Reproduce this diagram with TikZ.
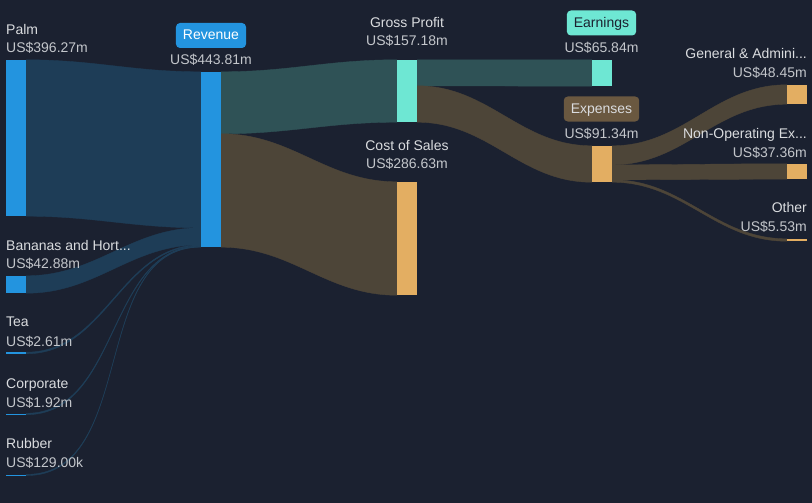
\documentclass[tikz,border=0pt]{standalone}
\usepackage{fontspec}
\setmainfont{Liberation Sans}
\usetikzlibrary{positioning,calc}

\definecolor{bgcol}{HTML}{1B2130}
\definecolor{bluebar}{HTML}{2394DF}
\definecolor{blueflow}{HTML}{1E3D57}
\definecolor{tealbar}{HTML}{6EE7D3}
\definecolor{tealflow}{HTML}{2F5256}
\definecolor{orangebar}{HTML}{E3AE62}
\definecolor{brownflow}{HTML}{4D4538}
\definecolor{browntag}{HTML}{6A5840}
\definecolor{txtcol}{HTML}{DADCDF}
\definecolor{valcol}{HTML}{C3C6CB}

\pgfdeclarelayer{flows}
\pgfsetlayers{flows,main}

\tikzset{
  bar/.style={rectangle, inner sep=0pt, minimum width=20pt, draw=none},
  lbl/.style={inner sep=0pt, text=txtcol, font=\fontsize{14}{16}\selectfont},
  val/.style={lbl, text=valcol},
  tag/.style={rounded corners=4pt, inner xsep=7pt, inner ysep=0pt, minimum height=25pt,
    text height=11pt, text depth=2pt, font=\fontsize{14}{16}\selectfont}
}

% band between two bars
\newcommand\band[5]{\fill[#5, draw=#5, line width=0.4pt] (#1) to[out=0,in=180] (#3) -- (#4) to[out=180,in=0] (#2) -- cycle;}

\begin{document}
\begin{tikzpicture}[x=1pt,y=-1pt]
  \begin{pgfonlayer}{flows}
    \fill[bgcol] (0,0) rectangle (812,503);
  \end{pgfonlayer}
  \useasboundingbox (0,0) rectangle (812,503);

  % bars
  \node[bar, fill=bluebar, minimum height=156pt] (palm) at (16,138) {};
  \node[bar, fill=bluebar, minimum height=17pt] (ban) at (16,284.5) {};
  \node[bar, fill=bluebar, minimum height=1.2pt] (tea) at (16,353) {};
  \node[bar, fill=bluebar, minimum height=1pt] (corp) at (16,414) {};
  \node[bar, fill=bluebar, minimum height=0.8pt] (rub) at (16,475) {};
  \node[bar, fill=bluebar, minimum height=175pt] (rev) at (211,159.5) {};
  \node[bar, fill=tealbar, minimum height=62pt] (gp) at (407,91) {};
  \node[bar, fill=orangebar, minimum height=113pt] (cos) at (407,238.5) {};
  \node[bar, fill=tealbar, minimum height=26pt] (earn) at (602,73) {};
  \node[bar, fill=orangebar, minimum height=36pt] (exp) at (602,164) {};
  \node[bar, fill=orangebar, minimum height=19pt] (ga) at (797,94.5) {};
  \node[bar, fill=orangebar, minimum height=15pt] (nop) at (797,171.5) {};
  \node[bar, fill=orangebar, minimum height=2pt] (oth) at (797,240) {};

  % flows
  \begin{pgfonlayer}{flows}
    \band{palm.north east}{palm.south east}{rev.north west}{$(rev.north west)+(0,156)$}{blueflow}
    \band{ban.north east}{ban.south east}{$(rev.north west)+(0,156)$}{$(rev.north west)+(0,173)$}{blueflow}
    \band{tea.north east}{tea.south east}{$(rev.north west)+(0,173)$}{$(rev.north west)+(0,174)$}{blueflow}
    \band{corp.north east}{corp.south east}{$(rev.north west)+(0,174)$}{$(rev.north west)+(0,174.8)$}{blueflow}
    \band{rub.north east}{rub.south east}{$(rev.north west)+(0,174.8)$}{rev.south west}{blueflow}
    \band{rev.north east}{$(rev.north east)+(0,62)$}{gp.north west}{gp.south west}{tealflow}
    \band{$(rev.north east)+(0,62)$}{rev.south east}{cos.north west}{cos.south west}{brownflow}
    \band{gp.north east}{$(gp.north east)+(0,26)$}{earn.north west}{earn.south west}{tealflow}
    \band{$(gp.north east)+(0,26)$}{gp.south east}{exp.north west}{exp.south west}{brownflow}
    \band{exp.north east}{$(exp.north east)+(0,19)$}{ga.north west}{ga.south west}{brownflow}
    \band{$(exp.north east)+(0,19)$}{$(exp.north east)+(0,34)$}{nop.north west}{nop.south west}{brownflow}
    \band{$(exp.north east)+(0,34)$}{exp.south east}{oth.north west}{oth.south west}{brownflow}
  \end{pgfonlayer}

  % left labels
  \node[lbl, anchor=base west] (palmlbl) at (6,34.5) {Palm};
  \node[val, anchor=base west] (palmval) at (6,53) {US\$396.27m};
  \node[lbl, anchor=base west] (banlbl) at (6,250) {Bananas and Hort...};
  \node[val, anchor=base west] (banval) at (6,268.7) {US\$42.88m};
  \node[lbl, anchor=base west] (tealbl) at (6,326.7) {Tea};
  \node[val, anchor=base west] (teaval) at (6,346) {US\$2.61m};
  \node[lbl, anchor=base west] (corplbl) at (6,388) {Corporate};
  \node[val, anchor=base west] (corpval) at (6,407) {US\$1.92m};
  \node[lbl, anchor=base west] (rublbl) at (6,448.7) {Rubber};
  \node[val, anchor=base west] (rubval) at (6,467.7) {US\$129.00k};

  % middle labels
  \node[tag, fill=bluebar, text=white] (revtag) at (211,35.5) {Revenue};
  \node[val, anchor=base] (revval) at (211,65) {US\$443.81m};
  \node[lbl, anchor=base] (gplbl) at (407,28) {Gross Profit};
  \node[val, anchor=base] (gpval) at (407,46) {US\$157.18m};
  \node[lbl, anchor=base] (coslbl) at (407,150) {Cost of Sales};
  \node[val, anchor=base] (cosval) at (407,168.5) {US\$286.63m};
  \node[tag, fill=tealbar, text=bgcol] (earntag) at (601.5,23) {Earnings};
  \node[val, anchor=base] (earnval) at (601.5,52.5) {US\$65.84m};
  \node[tag, fill=browntag, text=txtcol] (exptag) at (601.5,109) {Expenses};
  \node[val, anchor=base] (expval) at (601.5,138.5) {US\$91.34m};

  % right labels
  \node[lbl, anchor=base east] (galbl) at (807,59) {General \& Admini...};
  \node[val, anchor=base east] (gaval) at (807,77.5) {US\$48.45m};
  \node[lbl, anchor=base east] (noplbl) at (807,139) {Non-Operating Ex...};
  \node[val, anchor=base east] (nopval) at (807,157.5) {US\$37.36m};
  \node[lbl, anchor=base east] (othlbl) at (807,212.5) {Other};
  \node[val, anchor=base east] (othval) at (807,231.5) {US\$5.53m};
\end{tikzpicture}
\end{document}
